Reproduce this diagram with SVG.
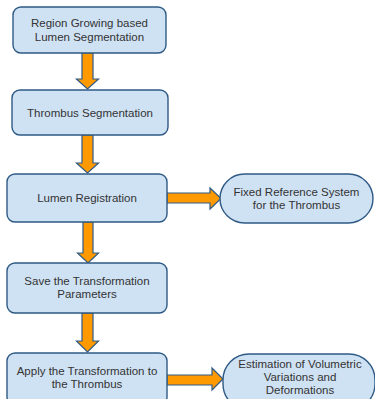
<svg xmlns="http://www.w3.org/2000/svg" width="375" height="399" viewBox="0 0 375 399">
<style>
.box{fill:#cfe2f3;stroke:#2f5a85;stroke-width:1.4}
.arr{fill:#ff9900;stroke:#2f5a85;stroke-width:1.2;stroke-linejoin:miter}
text{font-family:"Liberation Sans",Arial,sans-serif;font-size:11.5px;fill:#333;text-anchor:middle}
</style>
<rect width="375" height="399" fill="#fff"/>
<g id="connectors">
<polygon class="arr" points="82,53 93,53 93,79 98.5,79 87.5,89 76.5,79 82,79"/>
<polygon class="arr" points="82,135 93,135 93,163 98.5,163 87.5,173 76.5,163 82,163"/>
<polygon class="arr" points="83,222 93,222 93,253 98.5,253 88,263 77.5,253 83,253"/>
<polygon class="arr" points="82,313 93,313 93,341 98.5,341 87.5,352 76.5,341 82,341"/>
<polygon class="arr" points="167,193 210,193 210,188 221,198.5 210,209 210,203 167,203"/>
<polygon class="arr" points="167,375 212,375 212,368 223,379 212,390 212,385 167,385"/>
</g>
<g id="n1"><rect class="box" x="13" y="7" width="153" height="46" rx="8"/>
<text x="89.5" y="27">Region Growing based</text><text x="89.5" y="41">Lumen Segmentation</text></g>
<g id="n2"><rect class="box" x="12" y="90" width="156" height="45" rx="8"/>
<text x="90" y="117">Thrombus Segmentation</text></g>
<g id="n3"><rect class="box" x="7" y="174" width="160" height="48" rx="8"/>
<text x="87" y="202">Lumen Registration</text></g>
<g id="n4"><rect class="box" x="7" y="263" width="160" height="50" rx="8"/>
<text x="87" y="285">Save the Transformation</text><text x="87" y="298">Parameters</text></g>
<g id="n5"><rect class="box" x="7" y="353" width="160" height="52" rx="8"/>
<text x="87" y="375">Apply the Transformation to</text><text x="87" y="388">the Thrombus</text></g>
<g id="n6"><rect class="box" x="220" y="174" width="153" height="49" rx="24.5"/>
<text x="296.5" y="196">Fixed Reference System</text><text x="296.5" y="209">for the Thrombus</text></g>
<g id="n7"><rect class="box" x="223" y="354" width="152" height="56" rx="26"/>
<text x="300" y="368">Estimation of Volumetric</text><text x="300" y="381">Variations and</text><text x="300" y="394">Deformations</text></g>
</svg>
